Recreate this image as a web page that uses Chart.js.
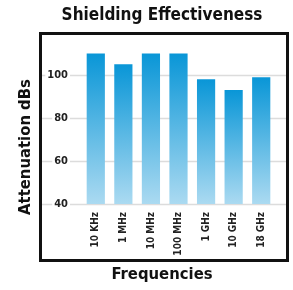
<!DOCTYPE html>
<html>
<head>
<meta charset="utf-8">
<script src="https://cdn.jsdelivr.net/npm/chart.js@4"></script>
<style>
  html, body { margin: 0; padding: 0; background: #fff; }
  #wrap { width: 293px; height: 290px; }
</style>
</head>
<body>
<div id="wrap"><canvas id="chart"></canvas></div>
<script>
const categories = ['10 KHz', '1 MHz', '10 MHz', '100 MHz', '1 GHz', '10 GHz', '18 GHz'];
const attenuation = [110, 105, 110, 110, 98, 93, 99];
const yTicks = [40, 60, 80, 100];

const chartTitle = 'Shielding Effectiveness';
const xTitle = 'Frequencies';
const yTitle = 'Attenuation dBs';

const FONT = "'Liberation Sans Narrow', 'DejaVu Sans Condensed', 'Roboto Condensed', sans-serif";

// gradient per bar, dark at its top, light at the bottom
function barFill(ctx) {
  const chart = ctx.chart;
  const y = chart.scales.y;
  if (!y || !ctx.parsed) return '#0b97d7';
  const top = y.getPixelForValue(ctx.parsed.y);
  const bottom = y.getPixelForValue(y.min);
  if (!isFinite(top) || !isFinite(bottom)) return '#0b97d7';
  const g = chart.ctx.createLinearGradient(0, top, 0, bottom);
  g.addColorStop(0, '#0996d7');
  g.addColorStop(1, '#abdaf1');
  return g;
}

// long grid lines, black frame and the three titles
const framePlugin = {
  id: 'frame',
  beforeDraw(chart) {
    const c = chart.ctx;
    const y = chart.scales.y;
    c.save();
    c.strokeStyle = '#dcdcdc';
    c.lineWidth = 1.5;
    yTicks.forEach(v => {
      const py = Math.round(y.getPixelForValue(v)) + 0.5;
      c.beginPath();
      c.moveTo(42, py);
      c.lineTo(286, py);
      c.stroke();
    });
    c.restore();
  },
  afterDraw(chart) {
    const c = chart.ctx;
    c.save();
    c.strokeStyle = '#111';
    c.lineWidth = 3;
    c.strokeRect(40.5, 33.5, 247, 227);

    c.fillStyle = '#111';
    c.textAlign = 'center';
    c.textBaseline = 'middle';
    c.font = 'bold 17px ' + FONT;
    c.fillText(chartTitle, 162, 16);
    c.font = 'bold 16.5px ' + FONT;
    c.fillText(xTitle, 162, 275);
    c.translate(26, 147);
    c.rotate(-Math.PI / 2);
    c.fillText(yTitle, 0, 0);
    c.restore();
  }
};

new Chart(document.getElementById('chart'), {
  type: 'bar',
  data: {
    labels: categories,
    datasets: [{
      data: attenuation,
      backgroundColor: barFill,
      borderWidth: 0,
      barPercentage: 0.66,
      categoryPercentage: 1
    }]
  },
  options: {
    responsive: true,
    maintainAspectRatio: false,
    animation: false,
    layout: { padding: { left: 0, right: 18, top: 32, bottom: 0 } },
    plugins: {
      legend: { display: false },
      tooltip: { enabled: false },
      title: { display: false }
    },
    scales: {
      x: {
        grid: { display: false, drawTicks: false },
        border: { display: false },
        ticks: {
          minRotation: 90,
          maxRotation: 90,
          padding: 8,
          color: '#222',
          font: { family: FONT, size: 10, weight: 'bold' }
        },
        afterFit(scale) { scale.height = 86; }
      },
      y: {
        min: 40,
        max: 120,
        afterBuildTicks(scale) { scale.ticks = yTicks.map(v => ({ value: v })); },
        grid: { display: false, drawTicks: false },
        border: { display: false },
        ticks: {
          padding: 14,
          color: '#222',
          showLabelBackdrop: true,
          backdropColor: '#fff',
          backdropPadding: { x: 2, y: 0 },
          font: { family: FONT, size: 11, weight: 'bold' }
        },
        afterFit(scale) { scale.width = 82; }
      }
    }
  },
  plugins: [framePlugin]
});
</script>
</body>
</html>
